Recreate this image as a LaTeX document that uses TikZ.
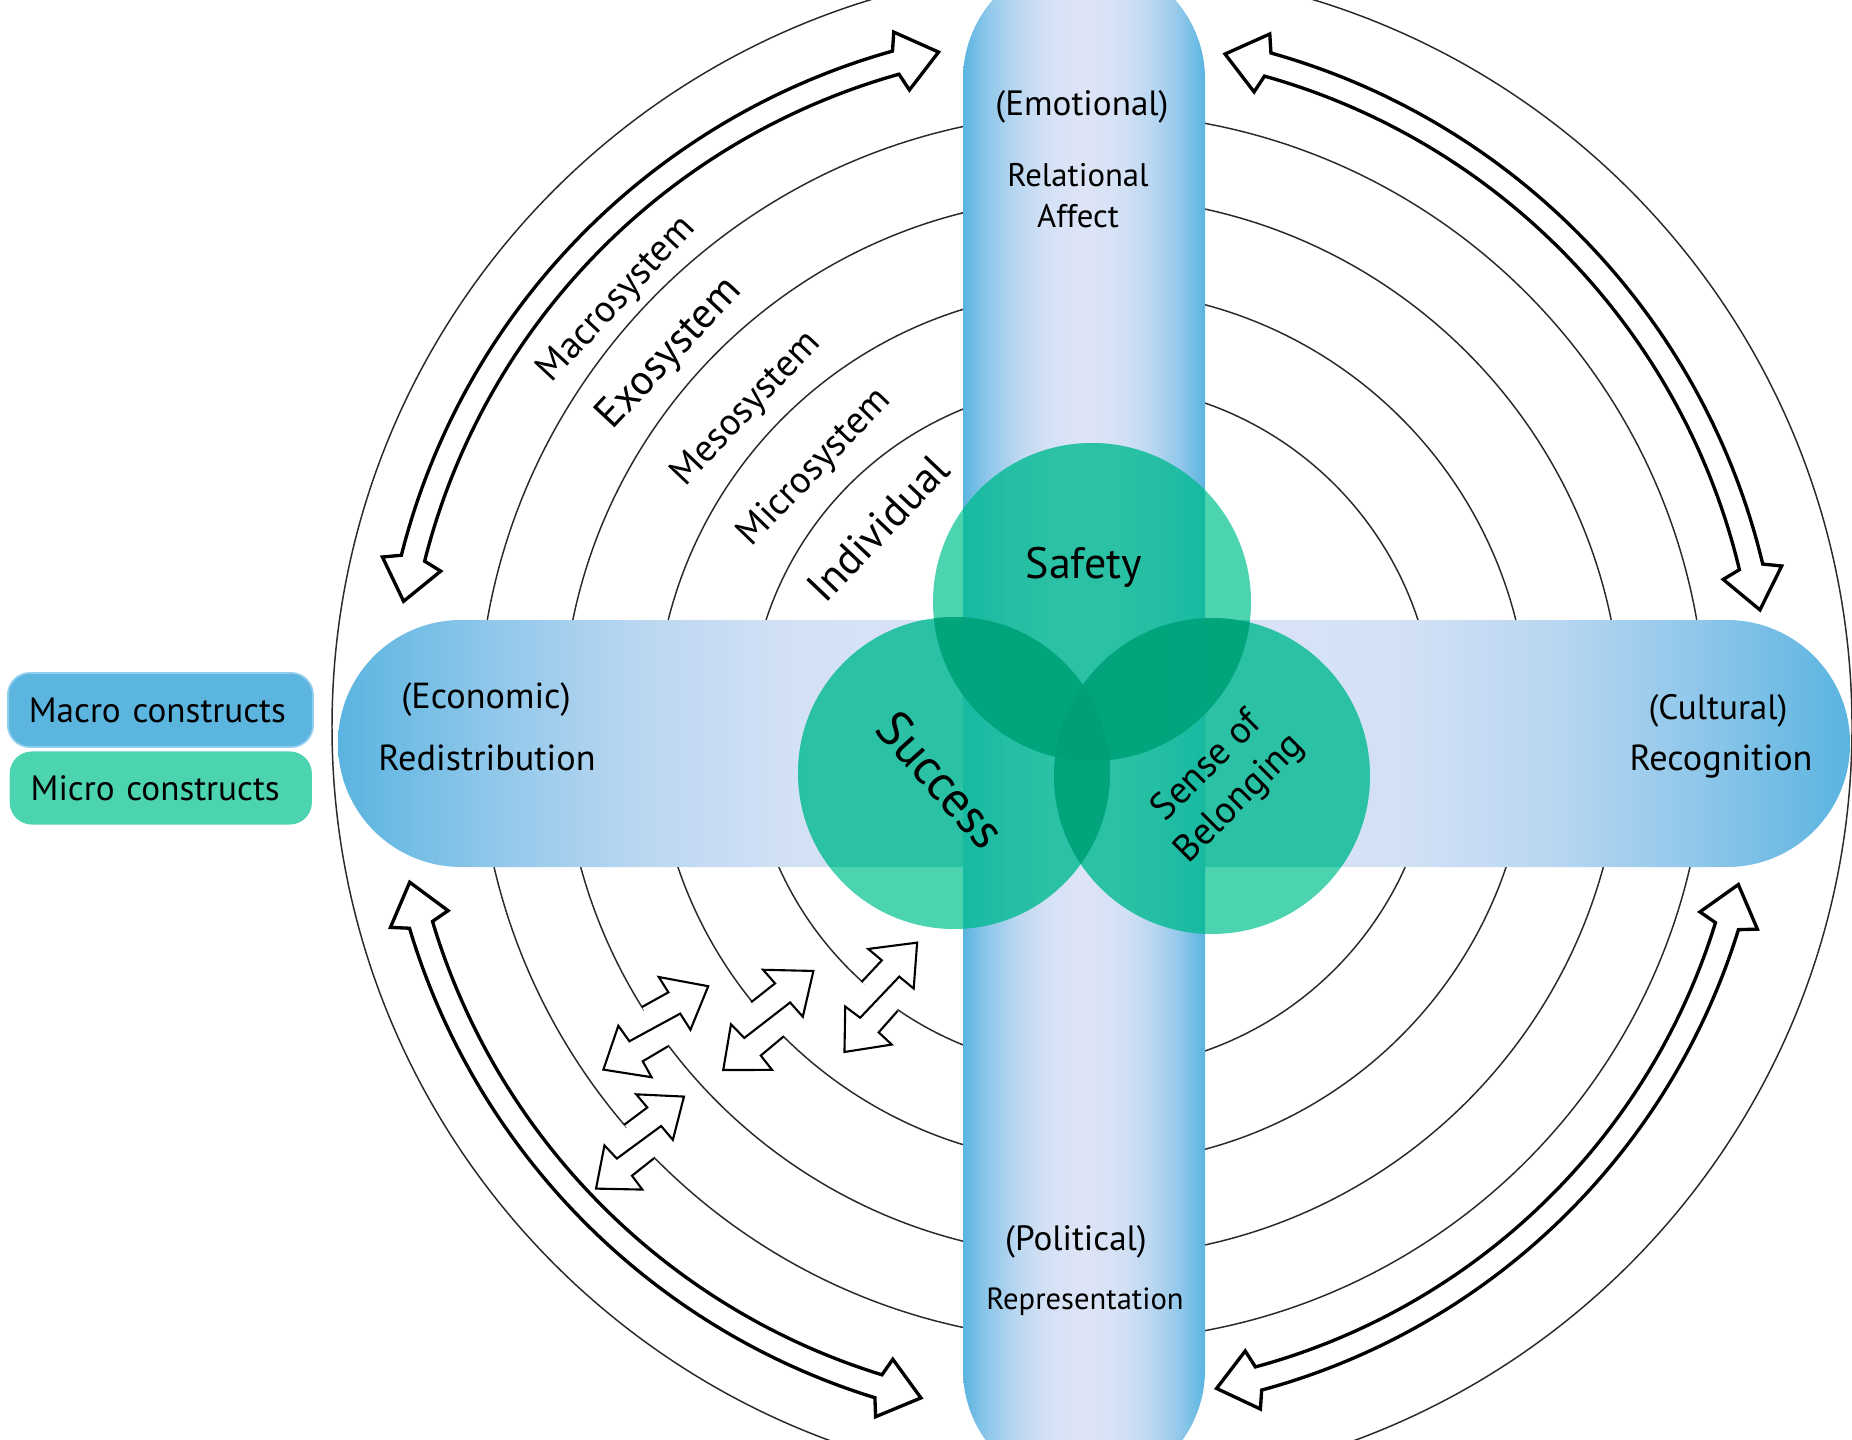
\documentclass[tikz,border=0pt]{standalone}
\usepackage{fontspec}
\setmainfont{PT Sans}
\usetikzlibrary{calc}
\definecolor{bb}{HTML}{5AB4E0}
\definecolor{bone}{HTML}{8FC7EA}
\definecolor{btwo}{HTML}{BAD7F1}
\definecolor{bthree}{HTML}{D3E1F5}
\definecolor{blight}{HTML}{DFE4F7}
\definecolor{gc}{RGB}{16,196,149}
\definecolor{gbar}{RGB}{0,175,150}
\definecolor{gd}{RGB}{0,160,118}
\definecolor{legblue}{HTML}{5BB5DF}
\definecolor{legblueb}{HTML}{90CDEE}
\definecolor{leggreen}{HTML}{4CD3B0}
\definecolor{ringc}{HTML}{2A2A2A}
\pgfdeclarehorizontalshading{hbarshade}{100bp}{color(0bp)=(bb); color(25bp)=(bb); color(30bp)=(bone); color(35bp)=(btwo); color(40bp)=(bthree); color(50bp)=(blight); color(60bp)=(bthree); color(65bp)=(btwo); color(70bp)=(bone); color(75bp)=(bb); color(100bp)=(bb)}
\pgfdeclarehorizontalshading{vbarshade}{100bp}{color(0bp)=(bb); color(25bp)=(bb); color(30bp)=(bone); color(36bp)=(btwo); color(42bp)=(bthree); color(50bp)=(blight); color(58bp)=(bthree); color(64bp)=(btwo); color(70bp)=(bone); color(75bp)=(bb); color(100bp)=(bb)}
\tikzset{
  ring/.style={draw=ringc, line width=0.42pt},
  smallline/.style={draw=black, line width=0.6pt, line join=miter},
  bigarrow/.style={draw=black, fill=white, line width=0.95pt, line join=miter},
  txt/.style={inner sep=0pt, text=black},
  single/.style={fill=gc, fill opacity=0.75},
  overbar/.style={fill=gbar, fill opacity=0.35},
  double/.style={fill=gd, fill opacity=0.8},
  pics/smallarr/.style={code={
    \fill[white] (2,25) -- (32,20) -- (34,38) -- (67,0) -- (26,-23) -- (28,-4) -- (-29,6) -- (-28,25) -- (-67,0) -- (-34,-36) -- (-31,-18) -- (-2,-22) -- cycle;
    \fill[white] (0,0) circle (21);
    \draw[smallline] (2,25) -- (32,20) -- (34,38) -- (67,0) -- (26,-23) -- (28,-4) -- (-29,6) -- (-28,25) -- (-67,0) -- (-34,-36) -- (-31,-18) -- (-2,-22);
  }}
}
\newcommand\bigarr[3]{% start angle, end angle, radius
  \draw[bigarrow] ({#1}:#3) -- ({#1+3.16}:{#3+30}) -- ({#1+3.66}:{#3+12})
    arc[start angle={#1+3.66}, end angle={#2-3.66}, radius={#3+12}]
    -- ({#2-3.16}:{#3+30}) -- ({#2}:#3) -- ({#2-3.16}:{#3-30}) -- ({#2-3.66}:{#3-12})
    arc[start angle={#2-3.66}, end angle={#1+3.66}, radius={#3-12}]
    -- ({#1+3.16}:{#3-30}) -- cycle;}
\begin{document}
\begin{tikzpicture}[x=0.01cm,y=0.01cm]
\useasboundingbox (0,0) rectangle (1852,-1440);
\clip (0,0) rectangle (1852,-1440);
\coordinate (C) at (1092,-727);
% inner rings
\foreach \r in {614,530,437,343} \draw[ring] (C) circle (\r);
% small radial double arrows
\pic[rotate=38.5] at (655.8,-1027.9) {smallarr};
\pic[rotate=47.7] at (768.3,-1020.5) {smallarr};
\pic[rotate=56.4, scale=0.98] at (880.8,-997.3) {smallarr};
\pic[rotate=46.3, scale=0.95] at (640,-1142.6) {smallarr};
% bars
\shade[shading=hbarshade, rounded corners=1.23cm] (338,-620) rectangle (1850,-867);
\shade[shading=vbarshade, rounded corners=1.2cm] (963,41) rectangle (1205,-1490);
% outer ring
\draw[ring] (C) circle (760);
% big curved double arrows
\begin{scope}[shift={(1082,-727)}]
\bigarr{102}{169.5}{690}
\bigarr{9.8}{78}{688}
\bigarr{193}{256.5}{690}
\bigarr{281.5}{346.5}{675}
\end{scope}
% green circles
\coordinate (cs) at (1092,-602);
\coordinate (cu) at (954,-773);
\coordinate (cb) at (1212,-776);
\fill[single] (cs) circle (159);
\fill[single] (cu) circle (156);
\fill[single] (cb) circle (158);
\begin{scope}
  \clip[rounded corners=1.23cm] (338,-620) rectangle (1850,-867) (963,41) rectangle (1205,-1490);
  \fill[overbar] (cs) circle (159);
  \fill[overbar] (cu) circle (156);
  \fill[overbar] (cb) circle (158);
\end{scope}
\begin{scope}\clip (cs) circle (159); \fill[double] (cu) circle (156);\end{scope}
\begin{scope}\clip (cs) circle (159); \fill[double] (cb) circle (158);\end{scope}
\begin{scope}\clip (cu) circle (156); \fill[double] (cb) circle (158);\end{scope}
% bar texts
\node[txt, font=\fontsize{10}{12}\selectfont] (emo) at (1082,-107) {(Emotional)};
\node[txt, font=\fontsize{9.3}{11}\selectfont] (rel) at (1078,-175) {Relational};
\node[txt, font=\fontsize{9.3}{11}\selectfont] (aff) at (1078,-216) {Affect};
\node[txt, font=\fontsize{10.3}{12}\selectfont] (eco) at (486,-700) {(Economic)};
\node[txt, font=\fontsize{10.3}{12}\selectfont] (red) at (487,-758) {Redistribution};
\node[txt, font=\fontsize{10}{12}\selectfont] (cul) at (1718,-711) {(Cultural)};
\node[txt, font=\fontsize{10.3}{12}\selectfont] (rec) at (1721,-762) {Recognition};
\node[txt, font=\fontsize{10}{12}\selectfont] (pol) at (1076,-1242) {(Political)};
\node[txt, font=\fontsize{8.7}{10}\selectfont] (rep) at (1085,-1302) {Representation};
% circle texts
\node[txt, font=\fontsize{12.5}{14}\selectfont] (saf) at (1084,-567) {Safety};
\node[txt, font=\fontsize{14.2}{16}\selectfont, rotate=-48] (suc) at (941,-780) {Success};
\node[txt, font=\fontsize{10.8}{13}\selectfont, rotate=45, align=center] (sob) at (1224,-783) {Sense of\\Belonging};
% ring labels
\node[txt, font=\fontsize{10.8}{13}\selectfont, rotate=47] (macs) at (617,-300) {Macrosystem};
\node[txt, font=\fontsize{12}{14}\selectfont, rotate=47] (exos) at (670,-354) {Exosystem};
\node[txt, font=\fontsize{10.8}{13}\selectfont, rotate=46.5] (meso) at (747,-409) {Mesosystem};
\node[txt, font=\fontsize{10.8}{13}\selectfont, rotate=46] (mics) at (815,-468) {Microsystem};
\node[txt, font=\fontsize{12.2}{15}\selectfont, rotate=46.5] (indv) at (878,-528) {Individual};
% legend
\node[draw=legblueb, line width=0.5pt, fill=legblue, rounded corners=0.22cm, minimum width=3.05cm, minimum height=0.74cm, text width=2.63cm, inner xsep=0.21cm, align=left, font=\fontsize{10}{12}\selectfont, anchor=west] (lmacro) at (7,-710) {Macro constructs};
\node[fill=leggreen, rounded corners=0.22cm, minimum width=3.02cm, minimum height=0.73cm, text width=2.6cm, inner xsep=0.21cm, align=left, font=\fontsize{10}{12}\selectfont, anchor=west] (lmicro) at (9,-788) {Micro constructs};
\end{tikzpicture}
\end{document}
